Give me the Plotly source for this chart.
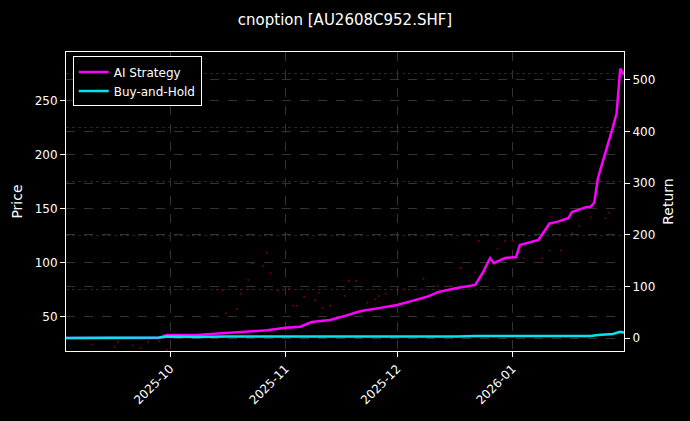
import plotly.graph_objects as go

# AI strategy / buy-and-hold cumulative return (%), right axis
ret_dates = ["2025-09-03", "2025-09-28", "2025-09-30", "2025-10-08", "2025-10-16", "2025-10-21",
             "2025-10-27", "2025-11-01", "2025-11-05", "2025-11-08", "2025-11-13", "2025-11-17",
             "2025-11-21", "2025-11-26", "2025-12-01", "2025-12-05", "2025-12-09", "2025-12-12",
             "2025-12-17", "2025-12-22", "2025-12-24", "2025-12-26", "2025-12-27", "2025-12-30",
             "2026-01-02", "2026-01-03", "2026-01-08", "2026-01-11", "2026-01-13", "2026-01-16",
             "2026-01-17", "2026-01-21", "2026-01-22", "2026-01-23", "2026-01-24", "2026-01-28",
             "2026-01-29", "2026-01-30", "2026-01-31"]
ai_strategy = [0, 0, 6, 6, 10, 12, 15, 20, 22, 31, 35, 43, 52, 58, 64, 72, 80, 89, 97, 103,
               126, 155, 145, 155, 157, 180, 190, 222, 225, 232, 244, 254, 254, 262, 310, 408,
               435, 522, 510]
buy_hold = [0, 1, 3, 2, 3, 3, 2, 2, 3, 2, 2, 2, 2, 3, 3, 3, 3, 3, 3, 4,
            4, 4, 4, 3, 3, 3, 3, 4, 4, 4, 4, 4, 4, 5, 6, 8,
            10, 12, 11]

# price markers, left axis
px_dates = ["2025-09-10", "2025-09-16", "2025-09-17", "2025-09-21", "2025-09-23", "2025-09-25",
            "2025-09-28", "2025-09-30", "2025-10-15", "2025-10-16", "2025-10-19", "2025-10-20",
            "2025-10-22", "2025-10-23", "2025-10-26", "2025-10-27", "2025-10-28", "2025-10-30",
            "2025-11-02", "2025-11-03", "2025-11-04", "2025-11-06", "2025-11-09", "2025-11-10",
            "2025-11-11", "2025-11-13", "2025-11-17", "2025-11-18", "2025-11-20", "2025-11-23",
            "2025-11-25", "2025-11-26", "2025-11-28", "2025-12-03", "2025-12-08", "2025-12-12",
            "2025-12-15", "2025-12-18", "2025-12-22", "2025-12-23", "2025-12-28", "2025-12-30",
            "2026-01-01", "2026-01-04", "2026-01-09", "2026-01-11", "2026-01-14", "2026-01-17",
            "2026-01-19", "2026-01-22", "2026-01-26", "2026-01-27"]
price = [24, 22, 26, 23, 21, 26, 27, 19, 74, 53, 57, 71, 84, 99, 97, 109, 90, 74, 76, 60,
         60, 68, 65, 72, 58, 60, 69, 83, 83, 63, 66, 69, 71, 75, 85, 78, 78, 95, 91, 120,
         113, 120, 120, 104, 104, 111, 111, 127, 134, 142, 141, 146]

fig = go.Figure()
fig.add_trace(go.Scatter(x=px_dates, y=price, mode="markers", showlegend=False,
                         marker=dict(color="#7a0000", size=2), yaxis="y"))
fig.add_trace(go.Scatter(x=ret_dates, y=ai_strategy, mode="lines", name="AI Strategy",
                         line=dict(color="#ff00ff", width=2.5), yaxis="y2"))
fig.add_trace(go.Scatter(x=ret_dates, y=buy_hold, mode="lines", name="Buy-and-Hold",
                         line=dict(color="#00e5ee", width=2.5), yaxis="y2"))

grid = dict(showgrid=True, gridcolor="#333", griddash="dash", gridwidth=0.6)
fig.update_layout(
    width=690, height=421, paper_bgcolor="black", plot_bgcolor="black",
    font=dict(family="DejaVu Sans", color="white", size=12),
    title=dict(text="cnoption [AU2608C952.SHF]", x=0.5, y=0.965, xanchor="center",
               yanchor="top", font=dict(size=15)),
    margin=dict(l=66, r=66, t=52, b=70, autoexpand=False),
    xaxis=dict(range=["2025-09-03", "2026-01-31"], tickvals=["2025-10-01", "2025-11-01", "2025-12-01", "2026-01-01"],
               ticktext=["2025-10", "2025-11", "2025-12", "2026-01"], tickangle=-45,
               showline=True, linecolor="white", mirror=True, ticks="outside", tickcolor="white",
               zeroline=False, automargin=False, **grid),
    yaxis=dict(title=dict(text="Price", standoff=8), range=[18, 295], tickvals=[50, 100, 150, 200, 250],
               showline=True, linecolor="white", ticks="outside", tickcolor="white", zeroline=False,
               automargin=False,
               minor=dict(tickvals=[75, 125, 175, 225, 275], showgrid=True, gridcolor="#262626", griddash="dot"),
               **grid),
    yaxis2=dict(title=dict(text="Return", standoff=8), overlaying="y", side="right", range=[-25, 554],
                tickvals=[0, 100, 200, 300, 400, 500], showline=True, linecolor="white",
                ticks="outside", tickcolor="white", zeroline=False, automargin=False, **grid),
    legend=dict(x=0.012, y=0.985, xanchor="left", yanchor="top", bgcolor="black",
                bordercolor="white", borderwidth=1, font=dict(size=12)),
)

fig.write_html("out.html", config={"displayModeBar": False},
               post_script="document.body.style.margin='0';document.body.style.background='black';")
